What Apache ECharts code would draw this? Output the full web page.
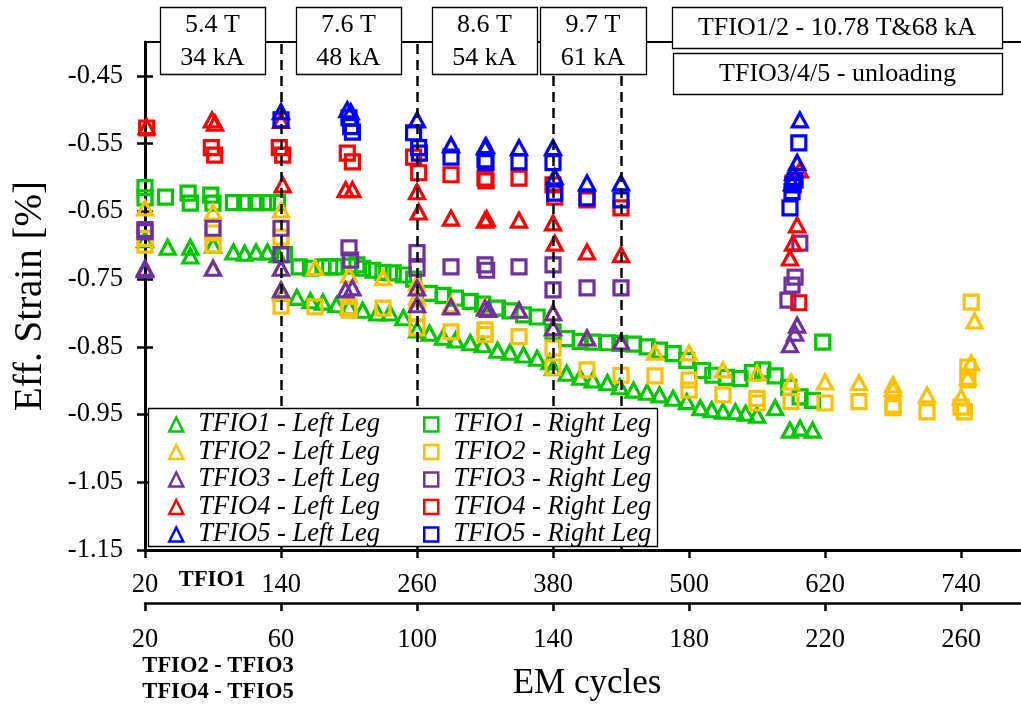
<!DOCTYPE html>
<html><head><meta charset="utf-8">
<script src="https://cdn.jsdelivr.net/npm/echarts@6/dist/echarts.min.js"></script>
<style>html,body{margin:0;padding:0;background:#fff}#c{width:1021px;height:709px}</style>
</head><body><div id="c"></div>
<script>
const FONT = '"Liberation Serif", "Times New Roman", serif';

// tick labels
const topTicks = [20, 140, 260, 380, 500, 620, 740];      // TFIO1 axis
const bottomTicks = [20, 60, 100, 140, 180, 220, 260];    // TFIO2-5 axis
const yTicks = [-1.15, -1.05, -0.95, -0.85, -0.75, -0.65, -0.55, -0.45];
const phaseLines = [60, 100, 140, 160];                   // dashed lines (TFIO2-5 cycles)

const seriesNames = [
  'TFIO1 - Left Leg', 'TFIO1 - Right Leg',
  'TFIO2 - Left Leg', 'TFIO2 - Right Leg',
  'TFIO3 - Left Leg', 'TFIO3 - Right Leg',
  'TFIO4 - Left Leg', 'TFIO4 - Right Leg',
  'TFIO5 - Left Leg', 'TFIO5 - Right Leg'
];
const leftNames = ['TFIO1 - Left Leg','TFIO2 - Left Leg','TFIO3 - Left Leg','TFIO4 - Left Leg','TFIO5 - Left Leg'];
const rightNames = ['TFIO1 - Right Leg','TFIO2 - Right Leg','TFIO3 - Right Leg','TFIO4 - Right Leg','TFIO5 - Right Leg'];

// TFIO1 (upper x axis: 20..740)
const tfio1Left = [[20,-0.692],[40,-0.703],[60,-0.703],[60,-0.716],[80,-0.700],[98,-0.710],[108,-0.712],[118,-0.710],[128,-0.710],[137,-0.714],
 [141,-0.771],[154,-0.777],[166,-0.782],[177,-0.784],[189,-0.788],[200,-0.791],[212,-0.796],[225,-0.800],[236,-0.800],[248,-0.807],
 [260,-0.825],[271,-0.830],[283,-0.836],[294,-0.840],[307,-0.844],[318,-0.847],[331,-0.855],[342,-0.858],[354,-0.862],[366,-0.867],[377,-0.872],
 [380,-0.881],[392,-0.889],[404,-0.895],[415,-0.899],[428,-0.903],[439,-0.909],[451,-0.914],[463,-0.917],[474,-0.921],[486,-0.926],[498,-0.931],
 [510,-0.940],[520,-0.943],[530,-0.945],[541,-0.946],[550,-0.948],[560,-0.951],[576,-0.940],
 [589,-0.973],[598,-0.970],[609,-0.973]];
const tfio1Right = [[20,-0.615],[20,-0.630],[38,-0.629],[58,-0.623],[60,-0.638],[78,-0.626],[80,-0.638],[98,-0.637],[108,-0.637],[118,-0.637],[128,-0.637],[137,-0.637],
 [143,-0.714],[156,-0.732],[166,-0.734],[177,-0.732],[183,-0.732],[189,-0.732],[200,-0.731],[207,-0.729],[212,-0.734],[221,-0.737],[230,-0.740],[239,-0.741],[248,-0.744],[257,-0.750],
 [271,-0.771],[283,-0.774],[294,-0.778],[307,-0.783],[318,-0.787],[331,-0.793],[342,-0.797],[354,-0.803],[366,-0.806],
 [380,-0.828],[392,-0.838],[404,-0.842],[415,-0.843],[428,-0.844],[439,-0.845],[451,-0.846],[463,-0.850],[474,-0.855],[486,-0.860],[498,-0.870],
 [512,-0.885],[521,-0.892],[533,-0.895],[545,-0.897],[556,-0.888],[565,-0.884],[576,-0.893],[588,-0.910],[598,-0.924],[609,-0.929],[618,-0.843]];

// TFIO2..5 (lower x axis: 20..260)
const tfio2Left = [[20,-0.645],[40,-0.651],[60,-0.648],[60,-0.770],[70,-0.733],[80,-0.744],[90,-0.748],[100,-0.756],[100,-0.776],[110,-0.788],[120,-0.791],[130,-0.796],
 [140,-0.799],[140,-0.822],[150,-0.837],[160,-0.843],[170,-0.858],[180,-0.859],[190,-0.884],[200,-0.889],[210,-0.902],[220,-0.902],[230,-0.903],[240,-0.906],[240,-0.912],
 [250,-0.921],[260,-0.924],[262,-0.895],[263,-0.874],[264,-0.812]];
const tfio2Right = [[20,-0.690],[20,-0.700],[40,-0.682],[40,-0.700],[60,-0.688],[60,-0.790],[70,-0.791],[80,-0.791],[80,-0.796],[90,-0.793],[100,-0.800],[100,-0.822],
 [110,-0.828],[120,-0.825],[120,-0.832],[130,-0.835],[140,-0.852],[140,-0.880],[150,-0.884],[160,-0.892],[170,-0.893],[180,-0.899],[180,-0.914],[190,-0.921],
 [200,-0.926],[200,-0.933],[210,-0.931],[220,-0.933],[230,-0.931],[240,-0.936],[240,-0.940],[250,-0.946],[260,-0.939],[261,-0.946],[262,-0.899],[262,-0.880],[263,-0.784]];
const tfio3Left = [[20,-0.734],[20,-0.736],[40,-0.734],[60,-0.734],[60,-0.766],[79,-0.766],[81,-0.763],[100,-0.763],[100,-0.788],[110,-0.791],[120,-0.793],[121,-0.795],
 [130,-0.796],[140,-0.800],[140,-0.822],[150,-0.837],[160,-0.843],[211.8,-0.818],[211.2,-0.830],[209.7,-0.847]];
const tfio3Right = [[20,-0.677],[20,-0.680],[40,-0.675],[60,-0.675],[60,-0.714],[80,-0.704],[80.5,-0.722],[100,-0.711],[100,-0.734],[110,-0.732],[120,-0.729],[120.5,-0.737],
 [130,-0.732],[140,-0.729],[140,-0.766],[150,-0.763],[160,-0.763],[212.6,-0.697],[211.2,-0.747],[210.3,-0.759],[209.1,-0.781]];
const tfio4Left = [[20.5,-0.525],[19.5,-0.571],[39.7,-0.515],[40.6,-0.520],[60,-0.516],[60.5,-0.611],[79,-0.618],[81,-0.618],[100,-0.621],[100.5,-0.651],[110,-0.660],
 [120,-0.663],[120.5,-0.661],[130,-0.663],[140,-0.667],[140.5,-0.697],[150,-0.710],[160,-0.714],[212.6,-0.589],[211.8,-0.670],[210.6,-0.697],[209.7,-0.719]];
const tfio4Right = [[20.5,-0.527],[19.5,-0.556],[39.5,-0.556],[40.5,-0.567],[59.5,-0.556],[60.5,-0.567],[79.5,-0.564],[81,-0.577],[99,-0.570],[100.5,-0.593],[110,-0.596],
 [120,-0.601],[120.3,-0.605],[130,-0.601],[140,-0.611],[140.5,-0.629],[150,-0.633],[160,-0.645],[210.6,-0.608],[212.3,-0.785]];
const tfio5Left = [[60,-0.503],[79.5,-0.500],[80.5,-0.503],[100,-0.515],[110,-0.552],[120,-0.555],[120.3,-0.553],[130,-0.556],[140,-0.556],[140.5,-0.599],[150,-0.608],
 [160,-0.608],[212.6,-0.515],[211.8,-0.578],[210.6,-0.593],[210.3,-0.608]];
const tfio5Right = [[60,-0.515],[80,-0.512],[80.5,-0.525],[81,-0.533],[99,-0.534],[100.5,-0.556],[100.7,-0.564],[110,-0.570],[120,-0.574],[120.3,-0.578],[130,-0.577],
 [140,-0.578],[140.5,-0.623],[150,-0.630],[160,-0.633],[212.3,-0.549],[211.2,-0.604],[210.6,-0.611],[210.3,-0.621],[209.7,-0.645]];

const seriesData = [tfio1Left, tfio1Right, tfio2Left, tfio2Right, tfio3Left, tfio3Right, tfio4Left, tfio4Right, tfio5Left, tfio5Right];
const colors = ['#00C800', '#FFC000', '#7030A0', '#FF0000', '#0000FF'];

const series = seriesData.map((d, i) => {
  const unit = Math.floor(i / 2);
  const isLeft = i % 2 === 0;
  const s = {
    name: seriesNames[i],
    type: 'scatter',
    xAxisIndex: unit === 0 ? 0 : 1,
    yAxisIndex: 0,
    data: d,
    symbol: isLeft ? 'triangle' : 'rect',
    symbolSize: isLeft ? [15, 14] : 14,
    itemStyle: { color: 'rgba(255,255,255,0)', borderColor: colors[unit], borderWidth: 3.2, opacity: 1 },
    emphasis: { disabled: true },
    z: 2
  };
  if (i === 2) {
    s.markLine = {
      silent: true,
      symbol: ['none', 'none'],
      label: { show: false },
      lineStyle: { color: '#000', type: [10, 6], width: 2.5, opacity: 1 },
      data: phaseLines.map(v => ({ xAxis: v }))
    };
  }
  return s;
});

const boxes = [
  { x: 160, y: 7, w: 105, h: 67, lines: ['5.4 T', '34 kA'] },
  { x: 296, y: 7, w: 105, h: 67, lines: ['7.6 T', '48 kA'] },
  { x: 432, y: 7, w: 105, h: 67, lines: ['8.6 T', '54 kA'] },
  { x: 540, y: 7, w: 106, h: 67, lines: ['9.7 T', '61 kA'] },
  { x: 672, y: 7, w: 330, h: 41, lines: ['TFIO1/2 - 10.78 T&68 kA'] },
  { x: 673, y: 53, w: 329, h: 41, lines: ['TFIO3/4/5 - unloading'] }
];
const graphics = [];
boxes.forEach(b => {
  graphics.push({ type: 'rect', z: 100, shape: { x: b.x + 0.5, y: b.y + 0.5, width: b.w, height: b.h },
    style: { fill: '#fff', stroke: '#000', lineWidth: 1.3 } });
  const n = b.lines.length;
  b.lines.forEach((t, k) => {
    graphics.push({ type: 'text', z: 101, style: {
      text: t, x: b.x + b.w / 2, y: b.y + b.h * (k + 0.5) / n + 1,
      textAlign: 'center', textVerticalAlign: 'middle',
      fontFamily: FONT, fontSize: 26, fill: '#000' } });
  });
});
graphics.push({ type: 'rect', z: 19, shape: { x: 148.5, y: 408.5, width: 509, height: 138 },
  style: { fill: '#fff', stroke: '#000', lineWidth: 1.3 } });
[['TFIO1', 212, 580], ['TFIO2 - TFIO3', 218, 666], ['TFIO4 - TFIO5', 218, 692]].forEach(([t, x, y]) => {
  graphics.push({ type: 'text', z: 50, style: { text: t, x, y, textAlign: 'center', textVerticalAlign: 'middle',
    fontFamily: FONT, fontSize: 22.5, fontWeight: 'bold', fill: '#000' } });
});

const axisFont = { fontFamily: FONT, fontSize: 26.5, color: '#000' };
const legendBase = {
  orient: 'vertical', top: 411, itemWidth: 14, itemHeight: 14, itemGap: 0.5, padding: 0,
  selectedMode: false, z: 20,
  itemStyle: { borderWidth: 2.5, opacity: 1 },
  textStyle: { fontFamily: FONT, fontStyle: 'italic', fontSize: 26.5, color: '#000', padding: [0, 0, 0, 10] }
};

const option = {
  animation: false,
  backgroundColor: '#fff',
  grid: { left: 145, right: -8, top: 42, bottom: 159, show: true, borderColor: '#000', borderWidth: 2,
    containLabel: false, outerBoundsMode: 'none' },
  legend: [
    Object.assign({}, legendBase, { left: 168, data: leftNames }),
    Object.assign({}, legendBase, { left: 423, data: rightNames })
  ],
  xAxis: [
    { type: 'value', min: 20, max: 800, position: 'bottom',
      axisLine: { onZero: false, lineStyle: { color: '#000', width: 3 } },
      axisTick: { length: 8, lineStyle: { color: '#000', width: 2.5 }, customValues: topTicks },
      axisLabel: Object.assign({ margin: 22, customValues: topTicks }, axisFont),
      splitLine: { show: false } },
    { type: 'value', min: 20, max: 280, position: 'bottom', offset: 53,
      axisLine: { onZero: false, lineStyle: { color: '#000', width: 2.5 } },
      axisTick: { length: 8, lineStyle: { color: '#000', width: 2.5 }, customValues: bottomTicks },
      axisLabel: Object.assign({ margin: 24, customValues: bottomTicks }, axisFont),
      splitLine: { show: false },
      name: 'EM cycles', nameLocation: 'middle', nameGap: 63,
      nameTextStyle: { fontFamily: FONT, fontSize: 35, color: '#000' } }
  ],
  yAxis: [
    { type: 'value', min: -1.15, max: -0.40, position: 'left',
      axisLine: { onZero: false, lineStyle: { color: '#000', width: 3 } },
      axisTick: { length: 8, lineStyle: { color: '#000', width: 2.5 }, customValues: yTicks },
      axisLabel: Object.assign({ margin: 22, customValues: yTicks, formatter: v => v.toFixed(2) }, axisFont),
      splitLine: { show: false },
      name: 'Eff. Strain [%]', nameLocation: 'middle', nameGap: 95,
      nameTextStyle: { fontFamily: FONT, fontSize: 39, color: '#000' } },
    { type: 'value', min: -1.15, max: -0.40, position: 'left',
      axisLine: { show: false },
      axisTick: { inside: true, length: 8, lineStyle: { color: '#000', width: 2.5 }, customValues: yTicks },
      axisLabel: { show: false },
      splitLine: { show: false } }
  ],
  graphic: graphics,
  series: series
};

const chart = echarts.init(document.getElementById('c'), null, { renderer: 'canvas' });
chart.setOption(option);
</script>
</body></html>
